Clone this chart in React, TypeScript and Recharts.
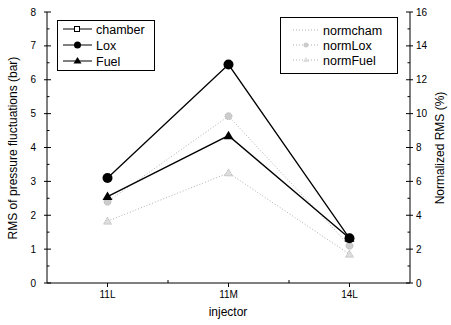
import React from "react";
import { ComposedChart, Line, XAxis, YAxis } from "recharts";

const categories = ["11L", "11M", "14L"];
const chamber: (number | null)[] = [null, null, null];
const lox = [3.1, 6.45, 1.32];
const fuel = [2.55, 4.35, 1.32];
const normCham: (number | null)[] = [null, null, null];
const normLox = [4.8, 9.85, 2.2];
const normFuel = [3.65, 6.5, 1.7];
const leftTicks = [0, 1, 2, 3, 4, 5, 6, 7, 8];
const rightTicks = [0, 2, 4, 6, 8, 10, 12, 14, 16];

const data = categories.map((c, i) => ({
  x: i + 1,
  name: c,
  chamber: chamber[i],
  lox: lox[i],
  fuel: fuel[i],
  normCham: normCham[i],
  normLox: normLox[i],
  normFuel: normFuel[i],
}));

const FONT = "'Liberation Sans', Arial, sans-serif";
const GRAY = "#b0b0b0";

const xTicks = [1, 1.5, 2, 2.5, 3];

const XTick = (props: any) => {
  const { x, y, payload } = props;
  const v = payload.value;
  const major = Number.isInteger(v);
  return (
    <g>
      <line x1={x} x2={x} y1={y} y2={major ? y + 4 : y - 3} stroke="#000" />
      {major && (
        <text x={x} y={y + 15} textAnchor="middle" fontSize={10} fontFamily={FONT} fill="#000">
          {categories[v - 1]}
        </text>
      )}
    </g>
  );
};

const LeftTick = (props: any) => {
  const { x, y, payload } = props;
  return (
    <g>
      <line x1={x - 3} x2={x + 4} y1={y} y2={y} stroke="#000" />
      <line x1={x} x2={x + 2.5} y1={y - 17} y2={y - 17} stroke={payload.value < 8 ? "#000" : "none"} />
      <text x={x - 11} y={y + 3.5} textAnchor="end" fontSize={10} fontFamily={FONT} fill="#000">
        {payload.value}
      </text>
    </g>
  );
};

const RightTick = (props: any) => {
  const { x, y, payload } = props;
  return (
    <g>
      <line x1={x - 4} x2={x + 3} y1={y} y2={y} stroke="#000" />
      <line x1={x - 2.5} x2={x} y1={y - 17} y2={y - 17} stroke={payload.value < 16 ? "#000" : "none"} />
      <text x={x + 6} y={y + 3.5} textAnchor="start" fontSize={10} fontFamily={FONT} fill="#000">
        {payload.value}
      </text>
    </g>
  );
};

const Square = (props: any) => {
  const { cx, cy } = props;
  if (cx == null || cy == null) return <g />;
  return <rect x={cx - 3} y={cy - 3} width={6} height={6} fill="#fff" stroke="#000" />;
};
const Circle = (props: any) => {
  const { cx, cy } = props;
  if (cx == null || cy == null) return <g />;
  return <circle cx={cx} cy={cy} r={5} fill="#000" />;
};
const Tri = (props: any) => {
  const { cx, cy } = props;
  if (cx == null || cy == null) return <g />;
  return <path d={`M${cx},${cy - 5} L${cx + 5},${cy + 3.5} L${cx - 5},${cy + 3.5} Z`} fill="#000" />;
};
const GraySq = (props: any) => {
  const { cx, cy } = props;
  if (cx == null || cy == null) return <g />;
  return <rect x={cx - 3} y={cy - 3} width={6} height={6} fill="none" stroke={GRAY} strokeDasharray="1 1" />;
};
const GrayCirc = (props: any) => {
  const { cx, cy } = props;
  if (cx == null || cy == null) return <g />;
  return <circle cx={cx} cy={cy} r={3.5} fill="#ccc" stroke={GRAY} strokeDasharray="1 1" />;
};
const GrayTri = (props: any) => {
  const { cx, cy } = props;
  if (cx == null || cy == null) return <g />;
  return <path d={`M${cx},${cy - 4} L${cx + 4},${cy + 3} L${cx - 4},${cy + 3} Z`} fill="#ddd" stroke={GRAY} strokeDasharray="1 1" />;
};

export default function App() {
  return (
    <div style={{ position: "fixed", left: 0, top: 0, width: 451, height: 325, background: "#fff" }}>
      <ComposedChart
        width={451}
        height={325}
        data={data}
        margin={{ top: 12, right: 0, bottom: 0, left: 0 }}
        style={{ fontFamily: FONT }}
      >
        <XAxis
          xAxisId="b"
          dataKey="x"
          type="number"
          domain={[0.5, 3.5]}
          ticks={xTicks}
          tick={<XTick />}
          tickLine={false}
          tickSize={0}
          tickMargin={0}
          axisLine={{ stroke: "#000" }}
          height={42}
        />
        <XAxis xAxisId="t" dataKey="x" type="number" domain={[0.5, 3.5]} orientation="top" tick={false} tickLine={false} height={0} axisLine={{ stroke: "#000" }} />
        <YAxis
          yAxisId="l"
          domain={[0, 8]}
          ticks={leftTicks}
          tick={<LeftTick />}
          tickLine={false}
          tickSize={0}
          tickMargin={0}
          width={47}
          axisLine={{ stroke: "#000" }}
        />
        <YAxis
          yAxisId="r"
          orientation="right"
          domain={[0, 16]}
          ticks={rightTicks}
          tick={<RightTick />}
          tickLine={false}
          tickSize={0}
          tickMargin={0}
          width={41}
          axisLine={{ stroke: "#000" }}
        />
        <Line xAxisId="b" yAxisId="r" dataKey="normCham" stroke={GRAY} strokeDasharray="1 2" dot={<GraySq />} isAnimationActive={false} />
        <Line xAxisId="b" yAxisId="r" dataKey="normLox" stroke={GRAY} strokeDasharray="1 2" dot={<GrayCirc />} isAnimationActive={false} />
        <Line xAxisId="b" yAxisId="r" dataKey="normFuel" stroke={GRAY} strokeDasharray="1 2" dot={<GrayTri />} isAnimationActive={false} />
        <Line xAxisId="b" yAxisId="l" dataKey="chamber" stroke="#000" strokeWidth={1.3} dot={<Square />} isAnimationActive={false} />
        <Line xAxisId="b" yAxisId="l" dataKey="lox" stroke="#000" strokeWidth={1.3} dot={<Circle />} isAnimationActive={false} />
        <Line xAxisId="b" yAxisId="l" dataKey="fuel" stroke="#000" strokeWidth={1.3} dot={<Tri />} isAnimationActive={false} />
      </ComposedChart>
      <svg width={451} height={325} style={{ position: "absolute", left: 0, top: 0, pointerEvents: "none" }}>
        <text x={228} y={316} textAnchor="middle" fontSize={12} fontFamily={FONT}>injector</text>
        <text transform="translate(17,148) rotate(-90)" textAnchor="middle" fontSize={12} fontFamily={FONT}>RMS of pressure fluctuations (bar)</text>
        <text transform="translate(444,148) rotate(-90)" textAnchor="middle" fontSize={12} fontFamily={FONT}>Normalized RMS (%)</text>

        <rect x={57.5} y={20.5} width={97} height={50} fill="#fff" stroke="#000" />
        <line x1={63} x2={92} y1={29} y2={29} stroke="#000" />
        <rect x={74.5} y={26.5} width={5} height={5} fill="#fff" stroke="#000" />
        <text x={96} y={33.5} fontSize={12.5} fontFamily={FONT}>chamber</text>
        <line x1={63} x2={92} y1={45} y2={45} stroke="#000" />
        <circle cx={77.5} cy={45} r={3.5} fill="#000" />
        <text x={96} y={49.5} fontSize={12.5} fontFamily={FONT}>Lox</text>
        <line x1={63} x2={92} y1={61} y2={61} stroke="#000" />
        <path d="M77.5,57 L81.5,63.5 L73.5,63.5 Z" fill="#000" />
        <text x={96} y={65.5} fontSize={12.5} fontFamily={FONT}>Fuel</text>

        <rect x={280.5} y={17.5} width={117} height={56} fill="#fff" stroke="#000" />
        <line x1={293} x2={320} y1={30} y2={30} stroke={GRAY} strokeDasharray="1 2" />
        <text x={323} y={34.5} fontSize={12.5} fontFamily={FONT}>normcham</text>
        <line x1={293} x2={320} y1={45} y2={45} stroke={GRAY} strokeDasharray="1 2" />
        <circle cx={306} cy={45} r={2.5} fill="#ccc" />
        <text x={323} y={49.5} fontSize={12.5} fontFamily={FONT}>normLox</text>
        <line x1={293} x2={320} y1={60} y2={60} stroke={GRAY} strokeDasharray="1 2" />
        <path d="M306,57 L309,62 L303,62 Z" fill="#ddd" />
        <text x={323} y={64.5} fontSize={12.5} fontFamily={FONT}>normFuel</text>
      </svg>
    </div>
  );
}
